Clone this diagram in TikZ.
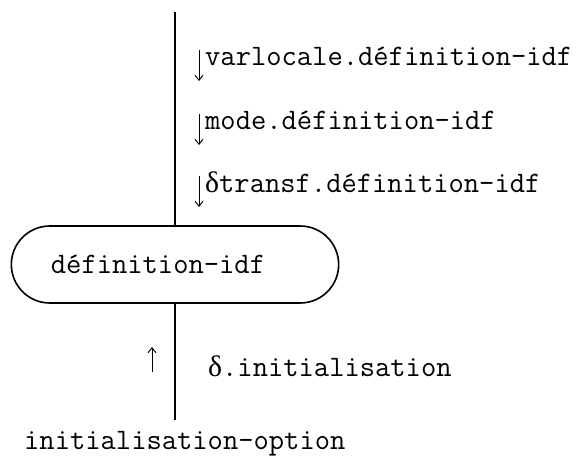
\documentclass[tikz,border=0pt]{standalone}
\usepackage{fontspec}
\usepackage{tikz}
\usetikzlibrary{arrows.meta, shapes.misc, calc}

\newfontfamily\greekfont{Liberation Serif}
\newcommand{\dlt}{{\greekfont δ}}

\tikzset{
    lbl/.style={font=\fontsize{29.7}{35}\selectfont\ttfamily, inner sep=0pt, anchor=base west},
    stadium/.style={draw, line width=1.6pt, rounded rectangle, minimum width=334pt,
        minimum height=77pt, font=\fontsize{29.7}{35}\selectfont\ttfamily},
    flow/.style={line width=1.8pt},
    dirarrow/.style={->, line width=0.9pt},
}

\begin{document}
\begin{tikzpicture}[x=1pt, y=-1pt, >={Straight Barb[length=5pt,width=8pt]}]

        \useasboundingbox (0,0) rectangle (579,460);

        % Box and free ends
        \node[stadium] (defidf) at (175,264.5) {définition-idf\hspace{34pt}\mbox{}};
        \coordinate (top) at (175,12);
        \coordinate (bot) at (175,420);

        % Labels
        \node[lbl] (varloc) at (205,66) {varlocale.définition-idf};
        \node[lbl] (mode) at (205,130) {mode.définition-idf};
        \node[lbl] (transf) at (205,192) {\dlt transf.définition-idf};
        \node[lbl] (init) at (208,376) {\dlt.initialisation};
        \node[lbl] (opt) at (24,449) {initialisation-option};

        % Lines
        \draw[flow] (top) -- (defidf.north);
        \draw[flow, line width=1.4pt] (defidf.south) -- (bot);

        % Direction arrows
        \draw[dirarrow] ($(varloc.base west)+(-6,-16)$) -- ($(varloc.base west)+(-6,15)$);
        \draw[dirarrow] ($(mode.base west)+(-6,-16)$) -- ($(mode.base west)+(-6,15)$);
        \draw[dirarrow] ($(transf.base west)+(-6,-16)$) -- ($(transf.base west)+(-6,15)$);
        \draw[dirarrow] ($(init.base west)+(-56,-4)$) -- ($(init.base west)+(-56,-29)$);

    \end{tikzpicture}
\end{document}
